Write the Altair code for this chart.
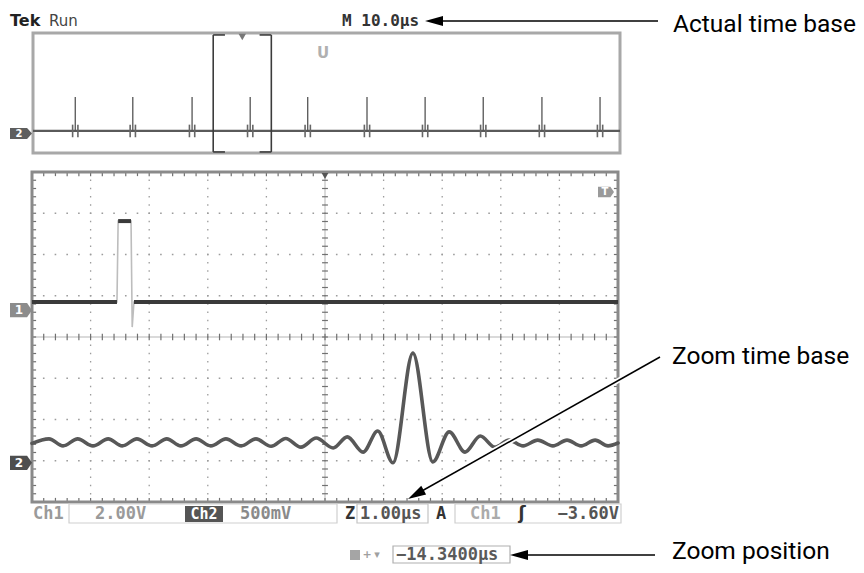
import altair as alt
import pandas as pd
import numpy as np

# ---------------- values ----------------
# Main (zoomed) window: x in divisions (1.00 us/div), y in divisions
ch2_x = [0.00, 0.29, 0.53, 0.78, 1.04, 1.30, 1.54, 1.79, 2.05, 2.30,
         2.54, 2.80, 3.05, 3.31, 3.57, 3.82, 4.08, 4.33, 4.59, 4.85,
         5.14, 5.38, 5.65, 5.90, 6.16, 6.50, 6.84, 7.12, 7.39, 7.65,
         7.90, 8.14, 8.38, 8.63, 8.89, 9.13, 9.37, 9.61, 9.83, 10.00]
ch2_y = [-2.58, -2.47, -2.64, -2.47, -2.64, -2.47, -2.64, -2.47, -2.64, -2.47,
         -2.64, -2.47, -2.64, -2.47, -2.64, -2.47, -2.65, -2.46, -2.67, -2.45,
         -2.69, -2.42, -2.79, -2.28, -3.05, -0.39, -3.03, -2.30, -2.79, -2.40,
         -2.67, -2.50, -2.64, -2.50, -2.64, -2.50, -2.64, -2.50, -2.64, -2.57]

ch1_x = [0.00, 1.45, 1.47, 1.69, 1.71, 1.74, 10.00]
ch1_y = [0.85, 0.85, 2.81, 2.81, 0.24, 0.85, 0.85]
ch1_seg = ["a", "a", "b", "b", "", "c", "c"]   # flat (bright) parts of the trace

ch_labels = ["1", "2"]
ch_ground = [0.65, -3.05]

# Overview window (10.0 us/div): spikes in divisions
ov_spikes = [0.72, 1.70, 2.71, 3.70, 4.68, 5.69, 6.68, 7.67, 8.67, 9.66]
ov_base = -2.53
ov_top = -0.27
ov_ch_ground = -2.70
zoom_window = [3.07, 4.06]

header_labels = ["Tek", "Run", "M 10.0µs"]
status_labels = ["Ch1", "2.00V", "Ch2", "500mV", "Z", "1.00µs", "A", "Ch1", "ʃ", "−3.60V"]
zoom_pos_label = "−14.3400µs"
annotations = ["Actual time base", "Zoom time base", "Zoom position"]

# ---------------- helpers ----------------
def P(v):
    return v - 8  # page pixel -> chart pixel (8px body margin)

ONE = pd.DataFrame({"_": [0]})
SCOPE_FONT = "DejaVu Sans Mono"
ANN_FONT = "Roboto"
ANN_SIZE = 24.5

MX = alt.Scale(domain=[0, 10], range=[P(32), P(618)], nice=False, zero=False)
MY = alt.Scale(domain=[-4, 4], range=[P(502), P(172)], nice=False, zero=False)
OXS = alt.Scale(domain=[0, 10], range=[P(33), P(620)], nice=False, zero=False)
OYS = alt.Scale(domain=[-4, 4], range=[P(153), P(33)], nice=False, zero=False)


def mx(f):
    return alt.X(f, type="quantitative", scale=MX, axis=None)


def my(f):
    return alt.Y(f, type="quantitative", scale=MY, axis=None)


def ox(f):
    return alt.X(f, type="quantitative", scale=OXS, axis=None)


def oy(f):
    return alt.Y(f, type="quantitative", scale=OYS, axis=None)


def txt(label, x, y, size=17, color="#666", font=SCOPE_FONT, weight="bold",
        align="left", baseline="middle"):
    return alt.Chart(ONE).mark_text(
        font=font, fontSize=size, fontWeight=weight, color=color,
        align=align, baseline=baseline
    ).encode(x=alt.value(P(x)), y=alt.value(P(y)), text=alt.value(label))


def box(x0, x1, y0, y1, **style):
    return alt.Chart(ONE).mark_rect(**style).encode(
        x=alt.value(P(x0)), x2=alt.value(P(x1)),
        y=alt.value(P(y0)), y2=alt.value(P(y1)))


def seg(x0, y0, x1, y1, color="black", width=1.5):
    return alt.Chart(ONE).mark_rule(color=color, strokeWidth=width).encode(
        x=alt.value(P(x0)), y=alt.value(P(y0)),
        x2=alt.value(P(x1)), y2=alt.value(P(y1)))


ARROW = "M1,0L-1,-0.55L-1,0.55Z"


def head(tipx, tipy, fromx, fromy, length=18):
    dx, dy = tipx - fromx, tipy - fromy
    n = (dx * dx + dy * dy) ** 0.5
    ux, uy = dx / n, dy / n
    ang = float(np.degrees(np.arctan2(uy, ux))) % 360
    cx, cy = tipx - ux * length / 2, tipy - uy * length / 2
    return alt.Chart(ONE).mark_point(
        shape=ARROW, size=length * length, filled=True, color="black",
        opacity=1, angle=ang, strokeWidth=0
    ).encode(x=alt.value(P(cx)), y=alt.value(P(cy)))


# ---------------- main screen ----------------
minor_x = np.round(np.arange(0, 10.001, 0.2), 3)
minor_y = np.round(np.arange(-4, 4.001, 0.2), 3)

df_gv = pd.DataFrame({"x": [1, 2, 3, 4, 6, 7, 8, 9], "y0": -4, "y1": 4})
df_gh = pd.DataFrame({"y": [-3, -2, -1, 1, 2, 3], "x0": 0, "x1": 10})
grid_v = alt.Chart(df_gv).mark_rule(color="#9c9c9c", strokeWidth=1.3,
                                    strokeDash=[1.6, 6.65], strokeDashOffset=0.8
                                    ).encode(x=mx("x"), y=my("y0"), y2="y1")
grid_h = alt.Chart(df_gh).mark_rule(color="#9c9c9c", strokeWidth=1.3,
                                    strokeDash=[1.6, 10.12], strokeDashOffset=0.8
                                    ).encode(y=my("y"), x=mx("x0"), x2="x1")
center_v = alt.Chart(pd.DataFrame({"x": [5], "y0": -4, "y1": 4})).mark_rule(
    color="#b5b5b5", strokeWidth=1).encode(x=mx("x"), y=my("y0"), y2="y1")
center_h = alt.Chart(pd.DataFrame({"y": [0], "x0": 0, "x1": 10})).mark_rule(
    color="#b5b5b5", strokeWidth=1).encode(y=my("y"), x=mx("x0"), x2="x1")

vt = pd.concat([
    pd.DataFrame({"x": minor_x, "y0": 4.0, "y1": 3.9}),
    pd.DataFrame({"x": minor_x, "y0": -4.0, "y1": -3.9}),
    pd.DataFrame({"x": minor_x, "y0": -0.08, "y1": 0.08}),
])
ht = pd.concat([
    pd.DataFrame({"y": minor_y, "x0": 0.0, "x1": 0.07}),
    pd.DataFrame({"y": minor_y, "x0": 10.0, "x1": 9.93}),
    pd.DataFrame({"y": minor_y, "x0": 4.95, "x1": 5.05}),
])
ticks_v = alt.Chart(vt).mark_rule(color="#707070", strokeWidth=1.2).encode(
    x=mx("x"), y=my("y0"), y2="y1")
ticks_h = alt.Chart(ht).mark_rule(color="#707070", strokeWidth=1.2).encode(
    y=my("y"), x=mx("x0"), x2="x1")
border = alt.Chart(pd.DataFrame({"x0": [0], "x1": [10], "y0": [-4], "y1": [4]})).mark_rect(
    filled=False, color="#8a8a8a", strokeWidth=3).encode(
    x=mx("x0"), x2="x1", y=my("y0"), y2="y1")

ch1_df = pd.DataFrame({"x": ch1_x, "y": ch1_y, "seg": ch1_seg, "i": range(len(ch1_x))})
ch1_light = alt.Chart(ch1_df).mark_line(color="#bdbdbd", strokeWidth=1.6).encode(
    x=mx("x"), y=my("y"), order="i:Q")
ch1_dark = alt.Chart(ch1_df).transform_filter("datum.seg != ''").mark_line(
    color="#3a3a3a", strokeWidth=4).encode(
    x=mx("x"), y=my("y"), detail="seg:N", order="i:Q")

ch2_df = pd.DataFrame({"x": ch2_x, "y": ch2_y})
ch2_line = alt.Chart(ch2_df).mark_line(interpolate="monotone", color="#585858",
                                       strokeWidth=3.6, strokeCap="round").encode(
    x=mx("x"), y=my("y"))

gdf = pd.DataFrame({"label": ch_labels, "y": ch_ground})
BOXSHAPE = "M-1,-0.65L0.55,-0.65L1,0L0.55,0.65L-1,0.65Z"
mk1 = alt.Chart(gdf).transform_filter("datum.label == '1'").mark_point(
    shape=BOXSHAPE, size=484, filled=True, color="#8c8c8c", opacity=1).encode(
    x=alt.value(P(21)), y=my("y"))
mk2 = alt.Chart(gdf).transform_filter("datum.label == '2'").mark_point(
    shape=BOXSHAPE, size=484, filled=True, color="#4e4e4e", opacity=1).encode(
    x=alt.value(P(21)), y=my("y"))
mk_txt = alt.Chart(gdf).mark_text(font="DejaVu Sans", fontWeight="bold", fontSize=12,
                                  color="white").encode(
    x=alt.value(P(19)), y=my("y"), text="label:N")
top_tri = alt.Chart(pd.DataFrame({"x": [5]})).mark_point(
    shape="triangle-down", size=45, filled=True, color="#555", opacity=1).encode(
    x=mx("x"), y=alt.value(P(176)))

main = alt.layer(grid_v, grid_h, center_v, center_h, ticks_v, ticks_h, border,
                 ch1_light, ch1_dark, ch2_line, mk1, mk2, mk_txt, top_tri)

# ---------------- overview ----------------
ov_border = alt.Chart(pd.DataFrame({"x0": [0], "x1": [10], "y0": [-4], "y1": [4]})).mark_rect(
    filled=False, color="#a8a8a8", strokeWidth=3).encode(
    x=ox("x0"), x2="x1", y=oy("y0"), y2="y1")
ov_baseline = alt.Chart(pd.DataFrame({"y": [ov_base], "x0": 0, "x1": 10})).mark_rule(
    color="#5a5a5a", strokeWidth=2.2).encode(y=oy("y"), x=ox("x0"), x2="x1")
sp_df = pd.DataFrame({"x": ov_spikes, "y0": ov_base, "y1": ov_top})
ov_spk = alt.Chart(sp_df).mark_rule(color="#555", strokeWidth=1.3).encode(
    x=ox("x"), y=oy("y0"), y2="y1")
ring_df = pd.concat([
    pd.DataFrame({"x": np.array(ov_spikes) - 0.045, "y0": ov_base - 0.42, "y1": ov_base + 0.42}),
    pd.DataFrame({"x": np.array(ov_spikes) + 0.045, "y0": ov_base - 0.42, "y1": ov_base + 0.42}),
])
ov_ring = alt.Chart(ring_df).mark_rule(color="#666", strokeWidth=1.6).encode(
    x=ox("x"), y=oy("y0"), y2="y1")
zw_v = alt.Chart(pd.DataFrame({"x": zoom_window, "y0": -3.93, "y1": 3.87})).mark_rule(
    color="#3c3c3c", strokeWidth=1.6).encode(x=ox("x"), y=oy("y0"), y2="y1")
zw_h = alt.Chart(pd.DataFrame({
    "x0": [zoom_window[0], zoom_window[1] - 0.2, zoom_window[0], zoom_window[1] - 0.2],
    "x1": [zoom_window[0] + 0.2, zoom_window[1], zoom_window[0] + 0.2, zoom_window[1]],
    "y": [3.87, 3.87, -3.93, -3.93]})).mark_rule(color="#3c3c3c", strokeWidth=1.6).encode(
    x=ox("x0"), x2="x1", y=oy("y"))
zw_tri = alt.Chart(pd.DataFrame({"x": [sum(zoom_window) / 2]})).mark_point(
    shape="triangle-down", size=55, filled=True, color="#777", opacity=1).encode(
    x=ox("x"), y=alt.value(P(37)))
OVSHAPE = "M-1,-0.5L0.55,-0.5L1,0L0.55,0.5L-1,0.5Z"
ov_mk = alt.Chart(pd.DataFrame({"label": ["2"], "y": [ov_ch_ground]})).mark_point(
    shape=OVSHAPE, size=484, filled=True, color="#5e5e5e", opacity=1).encode(
    x=alt.value(P(21)), y=oy("y"))
ov_mk_txt = alt.Chart(pd.DataFrame({"label": ["2"], "y": [ov_ch_ground]})).mark_text(
    font="DejaVu Sans", fontWeight="bold", fontSize=10, color="white").encode(
    x=alt.value(P(19)), y=oy("y"), text="label:N")

ov = alt.layer(ov_border, ov_baseline, ov_spk, ov_ring, zw_v, zw_h, zw_tri, ov_mk, ov_mk_txt)

# ---------------- scope texts, status bar, annotations ----------------
ZP_Y = 555  # zoom-position row (kept inside the page)
deco = [
    txt(header_labels[0], 10, 21, size=16, color="#222", font="DejaVu Sans", weight="bold"),
    txt(header_labels[1], 49, 21, size=15, color="#444", font="DejaVu Sans", weight="normal"),
    txt(header_labels[2], 342, 21, size=16, color="#333"),
    txt("U", 323, 53, size=15, color="#b0b0b0", font="DejaVu Sans", align="center"),
    # trigger marker
    alt.Chart(ONE).mark_point(shape=BOXSHAPE, size=256, filled=True, color="#9a9a9a",
                              opacity=1).encode(x=alt.value(P(606)), y=alt.value(P(192))),
    txt("T", 605, 192, size=10, color="white", font="DejaVu Sans", align="center"),
    # status bar
    box(69, 337, 504, 523, filled=False, color="#cfcfcf", strokeWidth=1.2),
    box(357, 428, 504, 523, filled=False, color="#c4c4c4", strokeWidth=1.2),
    box(455, 621, 504, 523, filled=False, color="#cfcfcf", strokeWidth=1.2),
    box(185, 223, 506, 522, color="#555"),
    txt(status_labels[0], 33, 514, color="#9a9a9a"),
    txt(status_labels[1], 95, 514, color="#9a9a9a"),
    txt(status_labels[2], 204, 514, color="white", align="center", size=15),
    txt(status_labels[3], 240, 514, color="#8a8a8a"),
    txt(status_labels[4], 350, 514, color="#333", align="center"),
    txt(status_labels[5], 360, 514, color="#555"),
    txt(status_labels[6], 441, 514, color="#333", align="center"),
    txt(status_labels[7], 470, 514, color="#ababab"),
    txt(status_labels[8], 522, 514, color="#333", align="center", font="DejaVu Sans"),
    txt(status_labels[9], 619, 514, color="#555", align="right"),
    # zoom position readout
    box(350, 360, ZP_Y - 5, ZP_Y + 5, color="#a5a5a5"),
    txt("+", 367, ZP_Y, size=11, color="#a0a0a0", align="center", font="DejaVu Sans"),
    txt("▾", 377, ZP_Y, size=11, color="#a0a0a0", align="center", font="DejaVu Sans"),
    box(393, 510, ZP_Y - 9, ZP_Y + 8, filled=False, color="#b0b0b0", strokeWidth=1.2),
    txt(zoom_pos_label, 396, ZP_Y, color="#5a5a5a"),
    # annotation arrows
    seg(430, 21, 658, 21),
    head(425, 21, 658, 21),
    seg(660, 357, 413, 496, color="white", width=5),
    seg(660, 357, 413, 496),
    head(408, 499, 660, 357),
    seg(514, ZP_Y, 655, ZP_Y),
    head(510, ZP_Y, 655, ZP_Y),
    txt(annotations[0], 673, 32, size=ANN_SIZE, color="black", font=ANN_FONT,
        weight="normal", baseline="alphabetic"),
    txt(annotations[1], 672, 364, size=ANN_SIZE, color="black", font=ANN_FONT,
        weight="normal", baseline="alphabetic"),
    txt(annotations[2], 672, 559, size=ANN_SIZE, color="black", font=ANN_FONT,
        weight="normal", baseline="alphabetic"),
]

chart = alt.layer(main, ov, *deco).resolve_scale(
    x="independent", y="independent"
).properties(
    width=848, height=557, padding=0,
    autosize=alt.AutoSizeParams(type="none"),
    background="white",
).configure_view(stroke=None)

chart.save("out.html", embed_options={"renderer": "svg", "actions": False})
